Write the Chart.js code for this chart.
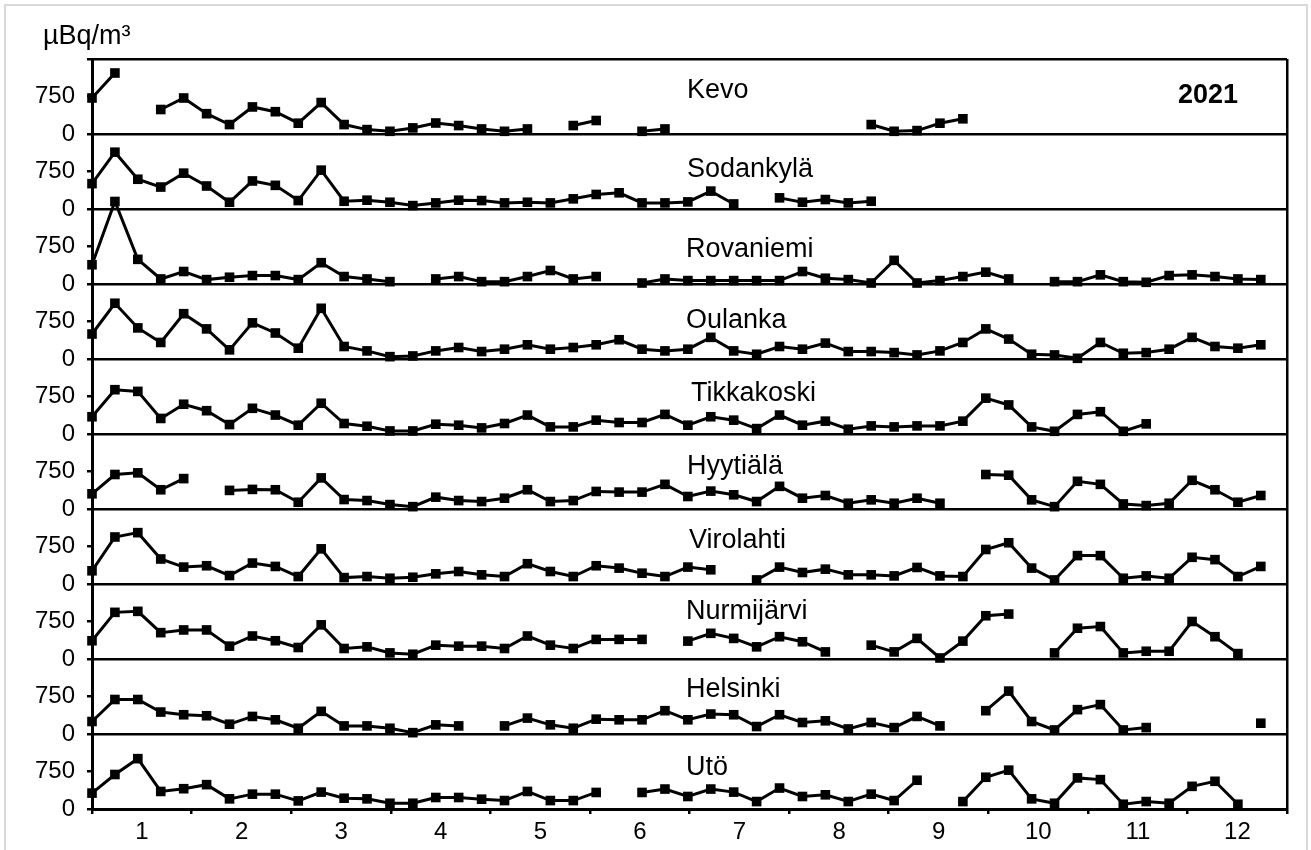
<!DOCTYPE html>
<html><head><meta charset="utf-8">
<script src="https://cdn.jsdelivr.net/npm/chart.js@4/dist/chart.umd.min.js"></script>
<style>html,body{margin:0;padding:0;background:#fff;}#wrap{position:relative;width:1311px;height:850px;}</style>
</head><body><div id="wrap"><canvas id="c" width="1311" height="850"></canvas></div>
<script>
// ---- data (µBq/m³, weekly, 2021) ----
const stations = ['Kevo','Sodankylä','Rovaniemi','Oulanka','Tikkakoski','Hyytiälä','Virolahti','Nurmijärvi','Helsinki','Utö'];
const monthLabels = ['1','2','3','4','5','6','7','8','9','10','11','12'];
const yTickLabels = ['0','750'];
const year = '2021';
const unit = 'µBq/m³';
const n = null;
const kevo = [720,1220,n,490,720,406,189,541,446,216,629,189,88,54,122,220, 169,101,54,101,n,169,270,n,54,101,n,n,n,n,n,n,n,n,189, 54,68,216,304,n,n,n,n,n,n,n,n,n,n,n,n,n];
const sodankyla = [507,1136,595,439,717,460,135,561,473,169,777,155,176,135,68,122, 176,169,122,135,122,203,291,324,122,122,142,358,101,n,223,135,189,122,155, n,n,n,n,n,n,n,n,n,n,n,n,n,n,n,n,n];
const rovaniemi = [385,1650,493,101,250,88,135,169,169,88,426,149,101,47,n,101, 149,47,47,149,270,101,149,n,20,101,68,68,68,68,68,250,115,88,20, 473,20,68,149,237,101,n,47,47,183,47,34,169,183,149,101,88];
const oulanka = [500,1115,622,331,906,602,183,723,520,216,1014,250,162,47,61,162, 230,149,196,284,196,230,284,385,196,162,196,433,162,95,250,196,318,149,149, 128,81,162,331,602,399,95,81,14,331,115,128,196,433,250,216,284];
const tikkakoski = [345,886,852,311,595,466,189,514,379,176,615,210,155,61,61,196, 176,122,210,379,142,142,277,230,230,392,176,345,277,108,379,176,257,95,162, 142,162,162,257,717,581,142,54,392,446,54,203,n,n,n,n,n];
const hyytiala = [304,690,723,385,608,n,372,392,385,135,622,189,169,88,47,237, 169,149,216,385,149,169,351,338,338,493,250,358,284,149,453,216,270,115,183, 115,216,115,n,690,676,183,47,554,493,101,68,115,574,385,135,270];
const virolahti = [264,940,1027,500,338,365,169,419,351,149,703,128,149,115,135,203, 250,183,149,406,250,149,365,318,216,149,338,284,n,81,338,230,297,183,183, 162,331,162,149,690,825,318,81,568,568,115,162,115,534,487,149,351];
const nurmijarvi = [365,933,953,527,581,581,257,460,365,230,683,210,243,122,95,277, 257,257,210,460,277,210,392,392,392,n,358,514,412,243,446,345,142,n,277, 142,412,20,358,865,899,n,122,615,649,122,155,155,750,446,108,n];
const helsinki = [250,690,690,439,385,365,196,351,284,115,453,162,162,115,27,183, 162,n,162,318,183,115,297,284,284,466,284,399,385,149,385,230,264,101,230, 128,351,162,n,466,858,250,81,487,588,81,128,n,n,n,n,216];
const uto = [318,690,1007,351,406,487,203,297,297,162,338,216,203,115,115,230, 230,196,169,351,169,169,331,n,331,399,250,399,338,149,419,250,284,149,297, 169,575,n,149,635,777,203,115,622,588,95,149,115,453,554,95,n];
const series = [kevo,sodankyla,rovaniemi,oulanka,tikkakoski,hyytiala,virolahti,nurmijarvi,helsinki,uto];
// sampling day of each weekly value (week index * 7)
const weekDay = kevo.map((_, i) => i * 7);

// ---- layout / style ----
const PANEL = 1500, NP = stations.length, YEAR_DAYS = 365;
const FONT = "'Liberation Sans', Arial, sans-serif";
const nameCapOffset = [29,33.5,38.7,34,32.7,30.5,29.5,25,28.5,31]; // px below panel top (cap centre)
const nameX = [687,687,686,686,691,687,689,686,686,686];

const datasets = series.map((vals, k) => ({
  label: stations[k],
  data: vals.map((v, i) => ({x: weekDay[i], y: v === null ? null : v + (NP - 1 - k) * PANEL})),
  borderColor: '#000', backgroundColor: '#000', borderWidth: 3,
  pointStyle: 'rect', pointRadius: 6.8, pointBorderWidth: 0, pointHoverRadius: 6.8,
  spanGaps: false, tension: 0, clip: false
}));

const textPlugin = {
  id: 'texts',
  afterDraw(chart) {
    const ctx = chart.ctx, y = chart.scales.y;
    ctx.save();
    // light frame
    ctx.strokeStyle = '#d9d9d9'; ctx.lineWidth = 2;
    ctx.beginPath(); ctx.moveTo(5, 850); ctx.lineTo(5, 5); ctx.lineTo(1307, 5); ctx.lineTo(1307, 850); ctx.stroke();
    ctx.fillStyle = '#000';
    ctx.textBaseline = 'alphabetic';
    ctx.textAlign = 'left';
    ctx.font = '27px ' + FONT;
    ctx.fillText(unit, 43, 35 + 0.358 * 25);
    ctx.font = '27px ' + FONT;
    stations.forEach((s, k) => {
      const top = y.getPixelForValue((NP - k) * PANEL);
      ctx.fillText(s, nameX[k], top + nameCapOffset[k] + 0.358 * 27);
    });
    ctx.font = 'bold 27px ' + FONT;
    ctx.textAlign = 'right';
    ctx.fillText(year, 1238, 93.7 + 0.358 * 27);
    ctx.restore();
  }
};

new Chart(document.getElementById('c'), {
  type: 'line',
  data: {datasets},
  options: {
    responsive: false, animation: false,
    layout: {padding: {top: 59, right: 24, left: 0, bottom: 0}},
    plugins: {legend: {display: false}, tooltip: {enabled: false}},
    scales: {
      x: {
        type: 'linear', min: 0, max: YEAR_DAYS,
        afterBuildTicks: s => { s.ticks = Array.from({length: 13}, (_, m) => ({value: m * YEAR_DAYS / 12})); },
        afterFit: s => { s.height = 41; },
        ticks: {
          autoSkip: false, maxRotation: 0, color: '#000', padding: 4, labelOffset: 50,
          font: {family: FONT, size: 24},
          callback: (v, i) => i < 12 ? monthLabels[i] : ''
        },
        grid: {
          color: c => c.index === 12 ? '#000' : 'rgba(0,0,0,0)',
          tickColor: '#000', lineWidth: 2.5, tickLength: 5
        },
        border: {color: '#000', width: 3}
      },
      y: {
        type: 'linear', min: 0, max: NP * PANEL,
        afterFit: s => { s.width = 92; },
        ticks: {
          stepSize: PANEL / 2, color: '#000', padding: 12,
          font: {family: FONT, size: 24},
          callback: v => v >= NP * PANEL ? '' : yTickLabels[(v % PANEL === 0) ? 0 : 1]
        },
        grid: {
          color: c => (c.tick && c.tick.value % PANEL === 0) ? '#000' : 'rgba(0,0,0,0)',
          tickColor: '#000', lineWidth: 2.5, tickLength: 5
        },
        border: {color: '#000', width: 3}
      }
    }
  },
  plugins: [textPlugin]
});
</script></body></html>
